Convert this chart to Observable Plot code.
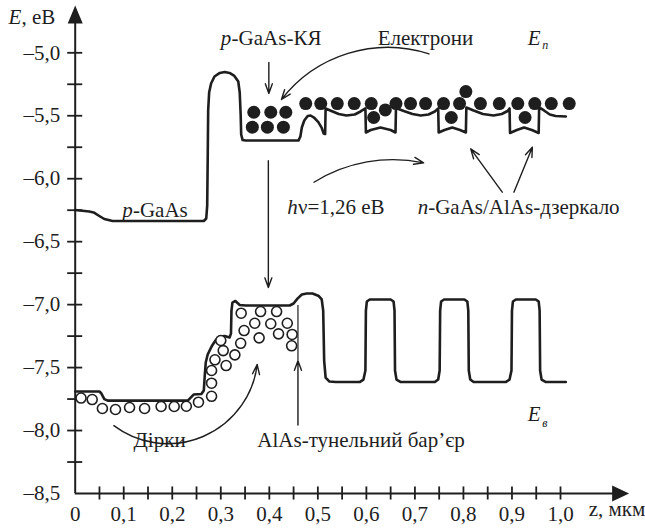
<!DOCTYPE html>
<html><head><meta charset="utf-8">
<script src="https://cdn.jsdelivr.net/npm/d3@7"></script>
<script src="https://cdn.jsdelivr.net/npm/@observablehq/plot@0.6"></script>
<style>
html,body{margin:0;padding:0;background:#fff;}
#chart svg{overflow:visible;}
</style>
</head><body><div id="chart"></div>
<script>
// ---------- data (z in мкм, E in еВ) ----------
// Conduction band edge E_п
const ecZ = [0, 0.029, 0.038, 0.048, 0.060, 0.077, 0.265, 0.270, 0.272, 0.273, 0.274, 0.276, 0.280, 0.287, 0.298, 0.308, 0.318, 0.328, 0.336, 0.339, 0.341, 0.342, 0.345, 0.351, 0.460, 0.464, 0.467, 0.472, 0.479, 0.485, 0.492, 0.501, 0.508, 0.512, 0.515, 0.516, 0.528, 0.543, 0.559, 0.576, 0.588, 0.598, 0.599, 0.609, 0.629, 0.650, 0.660, 0.661, 0.677, 0.695, 0.712, 0.728, 0.741, 0.748, 0.749, 0.761, 0.777, 0.793, 0.805, 0.806, 0.821, 0.840, 0.862, 0.879, 0.891, 0.895, 0.896, 0.910, 0.925, 0.941, 0.955, 0.956, 0.966, 0.978, 0.990, 1.011];
const ecE = [-6.249, -6.261, -6.268, -6.292, -6.320, -6.336, -6.336, -6.316, -6.213, -5.855, -5.458, -5.315, -5.244, -5.188, -5.160, -5.153, -5.160, -5.184, -5.228, -5.315, -5.498, -5.649, -5.693, -5.697, -5.697, -5.665, -5.593, -5.538, -5.502, -5.498, -5.514, -5.550, -5.597, -5.641, -5.645, -5.442, -5.462, -5.486, -5.498, -5.490, -5.466, -5.442, -5.633, -5.613, -5.593, -5.613, -5.633, -5.438, -5.462, -5.486, -5.498, -5.490, -5.466, -5.442, -5.633, -5.613, -5.593, -5.613, -5.633, -5.434, -5.458, -5.486, -5.498, -5.486, -5.462, -5.442, -5.637, -5.613, -5.593, -5.613, -5.637, -5.434, -5.458, -5.490, -5.502, -5.506];

// Valence band edge E_в
const evZ = [0, 0.050, 0.054, 0.060, 0.067, 0.232, 0.238, 0.244, 0.260, 0.265, 0.267, 0.269, 0.273, 0.281, 0.289, 0.298, 0.308, 0.318, 0.321, 0.322, 0.324, 0.330, 0.339, 0.351, 0.442, 0.450, 0.458, 0.467, 0.477, 0.489, 0.502, 0.508, 0.511, 0.513, 0.516, 0.524, 0.537, 0.586, 0.594, 0.598, 0.599, 0.601, 0.607, 0.650, 0.656, 0.658, 0.659, 0.662, 0.671, 0.741, 0.748, 0.751, 0.752, 0.754, 0.760, 0.802, 0.808, 0.810, 0.811, 0.814, 0.821, 0.887, 0.895, 0.899, 0.900, 0.902, 0.908, 0.949, 0.955, 0.957, 0.958, 0.961, 0.970, 1.011];
const evE = [-7.690, -7.690, -7.706, -7.750, -7.762, -7.762, -7.738, -7.714, -7.710, -7.682, -7.563, -7.460, -7.396, -7.333, -7.285, -7.253, -7.249, -7.261, -7.230, -7.047, -6.984, -6.971, -7.003, -7.007, -7.007, -6.991, -6.952, -6.920, -6.912, -6.912, -6.932, -6.959, -7.047, -7.444, -7.579, -7.611, -7.615, -7.615, -7.595, -7.523, -7.047, -6.975, -6.959, -6.959, -6.975, -7.047, -7.523, -7.595, -7.615, -7.615, -7.595, -7.523, -7.047, -6.975, -6.959, -6.959, -6.975, -7.047, -7.523, -7.595, -7.615, -7.615, -7.595, -7.523, -7.047, -6.975, -6.959, -6.959, -6.975, -7.047, -7.523, -7.595, -7.615, -7.615];

// Electrons (filled dots)
const electronZ = [0.368, 0.403, 0.434, 0.365, 0.396, 0.429, 0.475, 0.506, 0.540, 0.575, 0.610, 0.661, 0.691, 0.722, 0.759, 0.792, 0.835, 0.874, 0.912, 0.947, 0.981, 1.018, 0.805, 0.639, 0.615, 0.775, 0.927];
const electronE = [-5.472, -5.472, -5.472, -5.591, -5.591, -5.591, -5.403, -5.403, -5.403, -5.403, -5.403, -5.403, -5.403, -5.403, -5.403, -5.403, -5.403, -5.403, -5.403, -5.403, -5.403, -5.403, -5.308, -5.454, -5.514, -5.514, -5.514];

// Holes (open circles)
const holeZ = [0.012, 0.035, 0.056, 0.083, 0.112, 0.143, 0.177, 0.204, 0.229, 0.254, 0.281, 0.281, 0.281, 0.288, 0.311, 0.305, 0.329, 0.300, 0.341, 0.348, 0.370, 0.379, 0.403, 0.419, 0.437, 0.447, 0.446, 0.342, 0.382, 0.415];
const holeE = [-7.742, -7.754, -7.825, -7.833, -7.817, -7.825, -7.809, -7.809, -7.807, -7.775, -7.728, -7.624, -7.523, -7.438, -7.484, -7.365, -7.399, -7.285, -7.307, -7.206, -7.148, -7.264, -7.152, -7.232, -7.148, -7.237, -7.327, -7.068, -7.055, -7.055];

// Axes ticks and labels
const yMinorTicks = [-8.25, -8.0, -7.75, -7.5, -7.25, -7.0, -6.75, -6.5, -6.25, -6.0, -5.75, -5.5, -5.25, -5.0];
const yLabelTicks = [-8.5, -8.0, -7.5, -7.0, -6.5, -6.0, -5.5, -5.0];
const yTickLabels = ["–8,5", "–8,0", "–7,5", "–7,0", "–6,5", "–6,0", "–5,5", "–5,0"];
const xMinorTicks = [0.05, 0.1, 0.15, 0.2, 0.25, 0.3, 0.35, 0.4, 0.45, 0.5, 0.55, 0.6, 0.65, 0.7, 0.75, 0.8, 0.85, 0.9, 0.95, 1.0];
const xLabelTicks = [0, 0.1, 0.2, 0.3, 0.4, 0.5, 0.6, 0.7, 0.8, 0.9, 1.0];
const xTickLabels = ["0", "0,1", "0,2", "0,3", "0,4", "0,5", "0,6", "0,7", "0,8", "0,9", "1,0"];

// Arrows (annotation): from -> to, with bend in degrees
const arrows = [
  {x1: 0.399, y1: -5.077, x2: 0.399, y2: -5.323, bend: 0},   // p-GaAs-КЯ
  {x1: 0.398, y1: -5.857, x2: 0.398, y2: -6.864, bend: 0},   // transition
  {x1: 0.729, y1: -5.008, x2: 0.425, y2: -5.371, bend: -35}, // Електрони
  {x1: 0.492, y1: -6.028, x2: 0.718, y2: -5.874, bend: 22},  // hν
  {x1: 0.880, y1: -6.107, x2: 0.815, y2: -5.763, bend: 0},   // mirror 1
  {x1: 0.904, y1: -6.107, x2: 0.942, y2: -5.750, bend: 0},   // mirror 2
  {x1: 0.0796, y1: -7.961, x2: 0.375, y2: -7.476, bend: -60},// Дірки
  {x1: 0.459, y1: -7.956, x2: 0.459, y2: -7.445, bend: 0}    // AlAs barrier
];
const barrierLine = {x: 0.459, y1: -7.007, y2: -7.445};

// Text labels (left edge z, centre E)
const labels = [
  {z: -0.1375, e: -4.720, t: "E", it: true},
  {z: -0.1106, e: -4.720, t: ", eВ", it: false},
  {z: 0.300, e: -4.886, t: "p", it: true},
  {z: 0.3223, e: -4.886, t: "-GaAs-КЯ", it: false},
  {z: 0.6233, e: -4.886, t: "Електрони", it: false},
  {z: 0.9326, e: -4.886, t: "E", it: true},
  {z: 0.0969, e: -6.253, t: "p", it: true},
  {z: 0.1190, e: -6.253, t: "-GaAs", it: false},
  {z: 0.4371, e: -6.226, t: "h", it: true},
  {z: 0.4590, e: -6.226, t: "ν=1,26 eВ", it: false},
  {z: 0.7058, e: -6.226, t: "n", it: true},
  {z: 0.7274, e: -6.226, t: "-GaAs/AlAs-дзеркало", it: false},
  {z: 0.1202, e: -8.080, t: "Дірки", it: false},
  {z: 0.3753, e: -8.080, t: "AlAs-тунельний бар’єр", it: false},
  {z: 0.9326, e: -7.867, t: "E", it: true},
  {z: 1.0580, e: -8.622, t: "z, мкм", it: false}
];
const subLabels = [
  {z: 0.9625, e: -4.936, t: "п"},
  {z: 0.9625, e: -7.944, t: "в"}
];

// ---------- drawing ----------
const ink = "#1e1e1e";
const serif = "Liberation Serif";
const zOf = d => d.z, eOf = d => d.e;
const tickHalfZ = 0.0155, tickHalfE = 0.052;
const headUp = {draw(ctx) { ctx.moveTo(0, 0); ctx.lineTo(7.5, 18); ctx.lineTo(-7.5, 18); ctx.closePath(); }};
const headRight = {draw(ctx) { ctx.moveTo(0, 0); ctx.lineTo(-17, 8); ctx.lineTo(-17, -8); ctx.closePath(); }};

const arrowMarks = arrows.map(a => Plot.arrow([a], {x1: "x1", y1: "y1", x2: "x2", y2: "y2", bend: a.bend, stroke: ink, strokeWidth: 1.4, headLength: 11, headAngle: 40}));

const plot = Plot.plot({
  width: 645,
  height: 530,
  marginLeft: 74.7,
  marginRight: 85,
  marginTop: 52.3,
  marginBottom: 37,
  x: {domain: [0, 1], axis: null},
  y: {domain: [-8.5, -5.0], axis: null},
  style: {background: "#fff", color: ink, overflow: "visible"},
  marks: [
    // axes
    Plot.ruleX([0], {x: d => d, y1: -8.5, y2: -4.70, stroke: ink, strokeWidth: 2}),
    Plot.ruleY([-8.5], {y: d => d, x1: 0, x2: 1.115, stroke: ink, strokeWidth: 2}),
    Plot.dot([0], {x: d => d, y: -4.624, symbol: headUp, fill: ink, stroke: "none"}),
    Plot.dot([1.1414], {x: d => d, y: -8.5, symbol: headRight, fill: ink, stroke: "none"}),
    Plot.ruleY(yMinorTicks, {y: d => d, x1: -tickHalfZ, x2: tickHalfZ, stroke: ink, strokeWidth: 1.8}),
    Plot.ruleX(xMinorTicks, {x: d => d, y1: -8.5 - tickHalfE, y2: -8.5 + tickHalfE, stroke: ink, strokeWidth: 1.8}),
    Plot.text(yLabelTicks, {x: 0, y: d => d, text: (d, i) => yTickLabels[i], textAnchor: "end", dx: -15, fontSize: 21, fontFamily: serif, fill: ink}),
    Plot.text(xLabelTicks, {x: d => d, y: -8.5, text: (d, i) => xTickLabels[i], dy: 21, fontSize: 21, fontFamily: serif, fill: ink}),
    // bands
    Plot.line(ecZ, {x: ecZ, y: ecE, stroke: ink, strokeWidth: 2.6, strokeLinejoin: "round"}),
    Plot.line(evZ, {x: evZ, y: evE, stroke: ink, strokeWidth: 2.6, strokeLinejoin: "round"}),
    // barrier thin line
    Plot.ruleX([barrierLine], {x: "x", y1: "y1", y2: "y2", stroke: ink, strokeWidth: 1.2}),
    // carriers
    Plot.dot(holeZ, {x: holeZ, y: holeE, r: 5, stroke: ink, strokeWidth: 1.6, fill: "#fff"}),
    Plot.dot(electronZ, {x: electronZ, y: electronE, r: 6.5, fill: ink, stroke: "none"}),
    // arrows
    ...arrowMarks,
    // labels
    Plot.text(labels.filter(d => d.it), {x: zOf, y: eOf, text: "t", textAnchor: "start", fontStyle: "italic", fontSize: 21, fontFamily: serif, fill: ink}),
    Plot.text(labels.filter(d => !d.it), {x: zOf, y: eOf, text: "t", textAnchor: "start", fontSize: 21, fontFamily: serif, fill: ink}),
    Plot.text(subLabels, {x: zOf, y: eOf, text: "t", textAnchor: "start", fontStyle: "italic", fontSize: 12, fontFamily: serif, fill: ink})
  ]
});
d3.select(plot).selectAll("text").style("font-family", "'Liberation Serif'");
document.getElementById("chart").appendChild(plot);
</script>
</body></html>
